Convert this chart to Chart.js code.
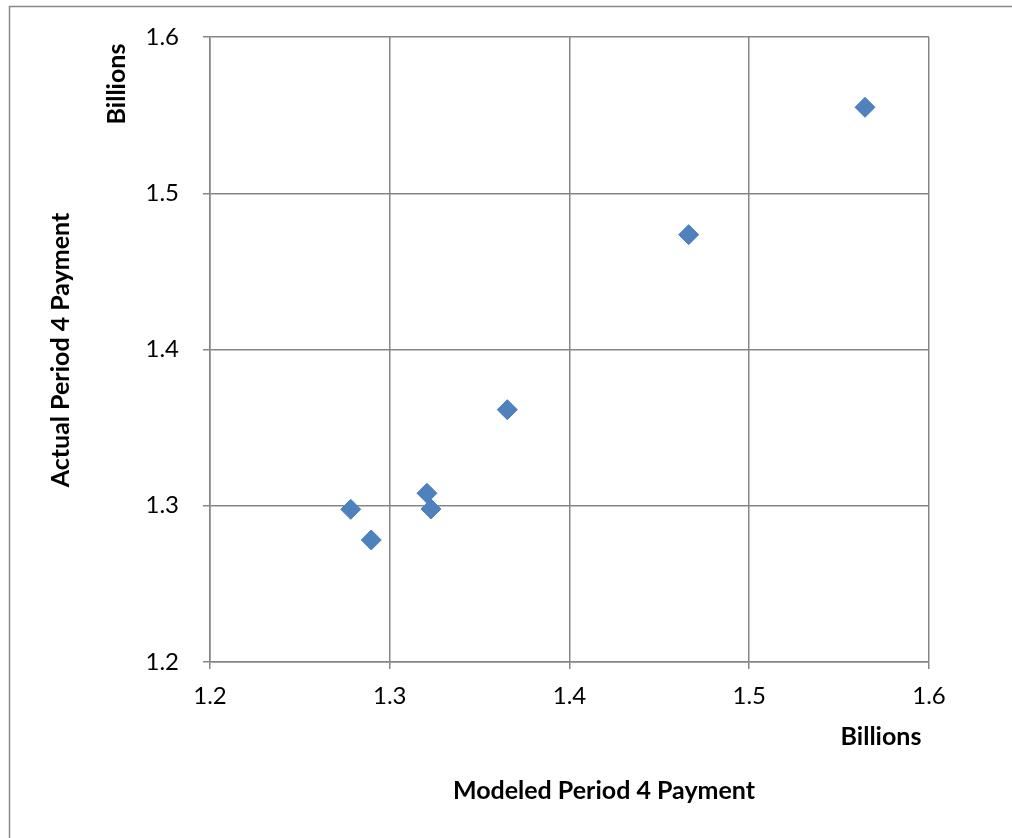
<!DOCTYPE html>
<html>
<head>
<meta charset="utf-8">
<script src="https://cdn.jsdelivr.net/npm/chart.js@4/dist/chart.umd.min.js"></script>
<style>
  html, body { margin: 0; padding: 0; background: #fff; }
  #wrap { width: 1012px; height: 838px; }
</style>
</head>
<body>
<div id="wrap"><canvas id="chart"></canvas></div>
<script>
// data (billions)
const modeled = [1.2783, 1.2897, 1.3207, 1.3229, 1.3654, 1.4663, 1.5644];
const actual  = [1.2977, 1.2781, 1.3080, 1.2979, 1.3615, 1.4735, 1.5550];
const xTickLabels = ['1.2', '1.3', '1.4', '1.5', '1.6'];
const yTickLabels = ['1.2', '1.3', '1.4', '1.5', '1.6'];
const xTitle = 'Modeled Period 4 Payment';
const yTitle = 'Actual Period 4 Payment';
const unitLabel = 'Billions';

const points = modeled.map((x, i) => ({ x: x, y: actual[i] }));

const GRID = '#868686';
const FONT = 'Lato';

// frame + axis titles drawn like the Excel chart
const extras = {
    id: 'extras',
    beforeDraw(chart) {
        const ctx = chart.ctx;
        ctx.save();
        ctx.strokeStyle = '#898989';
        ctx.lineWidth = 1.5;
        ctx.strokeRect(9.5, 6.5, 1200, 1200);
        ctx.restore();
    },
    afterDraw(chart) {
        const ctx = chart.ctx;
        ctx.save();
        ctx.fillStyle = '#000';
        ctx.font = 'bold 25px ' + FONT;
        ctx.textAlign = 'center';
        ctx.textBaseline = 'middle';
        // x titles
        ctx.fillText(unitLabel, 881, 737);
        ctx.fillText(xTitle, 604, 791);
        // y titles (rotated)
        ctx.save();
        ctx.translate(117, 84);
        ctx.rotate(-Math.PI / 2);
        ctx.fillText(unitLabel, 0, 0);
        ctx.restore();
        ctx.save();
        ctx.translate(61, 350);
        ctx.rotate(-Math.PI / 2);
        ctx.fillText(yTitle, 0, 0);
        ctx.restore();
        ctx.restore();
    }
};

new Chart(document.getElementById('chart'), {
    type: 'scatter',
    data: {
        datasets: [{
            data: points,
            pointStyle: 'rectRot',
            pointRadius: 10,
            pointHoverRadius: 10,
            backgroundColor: '#4F81BD',
            borderColor: '#4A7EBB',
            borderWidth: 1
        }]
    },
    options: {
        responsive: true,
        maintainAspectRatio: false,
        animation: false,
        events: [],
        layout: { padding: { top: 37, right: 83, left: 0, bottom: 0 } },
        plugins: { legend: { display: false }, tooltip: { enabled: false } },
        scales: {
            x: {
                type: 'linear',
                min: 1.2, max: 1.6,
                afterFit: (s) => { s.height = 176; s.paddingLeft = 0; s.paddingRight = 0; },
                border: { color: GRID, width: 1.5 },
                grid: { color: GRID, lineWidth: 1.5, tickLength: 7, tickColor: GRID },
                ticks: {
                    stepSize: 0.1,
                    padding: 13,
                    color: '#000',
                    font: { family: FONT, size: 24 },
                    callback: (v, i) => xTickLabels[i]
                }
            },
            y: {
                type: 'linear',
                min: 1.2, max: 1.6,
                afterFit: (s) => { s.width = 210; s.paddingTop = 0; s.paddingBottom = 0; },
                border: { color: GRID, width: 1.5 },
                grid: { color: GRID, lineWidth: 1.5, tickLength: 7, tickColor: GRID },
                ticks: {
                    stepSize: 0.1,
                    padding: 24,
                    color: '#000',
                    font: { family: FONT, size: 24 },
                    callback: (v, i) => yTickLabels[i]
                }
            }
        }
    },
    plugins: [extras]
});
</script>
</body>
</html>
